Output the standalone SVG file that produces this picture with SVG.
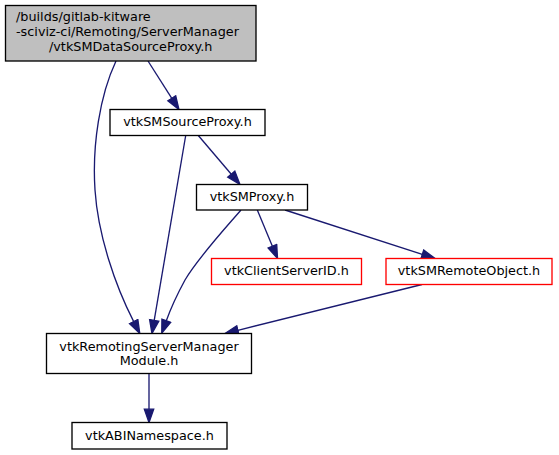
<svg xmlns="http://www.w3.org/2000/svg" width="559" height="455" viewBox="0 0 559 455">
<style>
.bg{fill:#ffffff}
.node rect{fill:#ffffff;stroke:#000000;stroke-width:1.33}
.node.root rect{fill:#bfbfbf;stroke:#000000}
.node.red rect{stroke:#ff0000}
.node text{font-family:"DejaVu Sans","Liberation Sans",sans-serif;font-size:12.8px;fill:#000000}
.edge path{fill:none;stroke:#191970;stroke-width:1.33}
</style>
<defs>
<marker id="arrow" markerUnits="userSpaceOnUse" markerWidth="16" markerHeight="12" viewBox="-1 -1 16 12" refX="0" refY="4.67" orient="auto">
<path d="M0,0 L13.33,4.67 L0,9.33 z" fill="#191970" stroke="#191970" stroke-width="1.33"/>
</marker>
</defs>
<rect class="bg" x="0" y="0" width="559" height="455"/>
<g id="edges" class="edge">
<path d="M148,61 L171.8,98.3" marker-end="url(#arrow)"/>
<path d="M116,61 C100,95 92,145 95,190 C98,235 115,285 133.7,321.6" marker-end="url(#arrow)"/>
<path d="M198.3,135.5 L231.3,174.2" marker-end="url(#arrow)"/>
<path d="M185.7,135.5 L154.2,320.4" marker-end="url(#arrow)"/>
<path d="M241,210 C222,232 198,258 185,280 C179,291 172,305 166.3,320.7" marker-end="url(#arrow)"/>
<path d="M257.3,210 L272.4,246.2" marker-end="url(#arrow)"/>
<path d="M285,210 L422.3,254.4" marker-end="url(#arrow)"/>
<path d="M422,284.5 L237.9,330.3" marker-end="url(#arrow)"/>
<path d="M149,373.5 L149,409.2" marker-end="url(#arrow)"/>
</g>
<g id="node1" class="node root">
<rect x="5.5" y="5.5" width="250.5" height="55.5"/>
<text x="16" y="21.3">/builds/gitlab-kitware</text>
<text x="16" y="36">-sciviz-ci/Remoting/ServerManager</text>
<text x="130.7" y="50.7" text-anchor="middle">/vtkSMDataSourceProxy.h</text>
</g>
<g id="node2" class="node">
<rect x="110" y="109.5" width="155" height="26"/>
<text x="187.5" y="126.2" text-anchor="middle">vtkSMSourceProxy.h</text>
</g>
<g id="node3" class="node">
<rect x="196.5" y="184.5" width="111" height="25.5"/>
<text x="252" y="200.7" text-anchor="middle">vtkSMProxy.h</text>
</g>
<g id="node4" class="node red">
<rect x="211.5" y="258.5" width="150" height="26"/>
<text x="286.5" y="275.2" text-anchor="middle">vtkClientServerID.h</text>
</g>
<g id="node5" class="node red">
<rect x="386" y="258.5" width="166" height="26"/>
<text x="469" y="275.2" text-anchor="middle">vtkSMRemoteObject.h</text>
</g>
<g id="node6" class="node">
<rect x="46.5" y="333.5" width="205" height="40"/>
<text x="149" y="350.5" text-anchor="middle">vtkRemotingServerManager</text>
<text x="149" y="365.2" text-anchor="middle">Module.h</text>
</g>
<g id="node7" class="node">
<rect x="72" y="422.5" width="155" height="26.5"/>
<text x="149.5" y="439.7" text-anchor="middle">vtkABINamespace.h</text>
</g>
</svg>
